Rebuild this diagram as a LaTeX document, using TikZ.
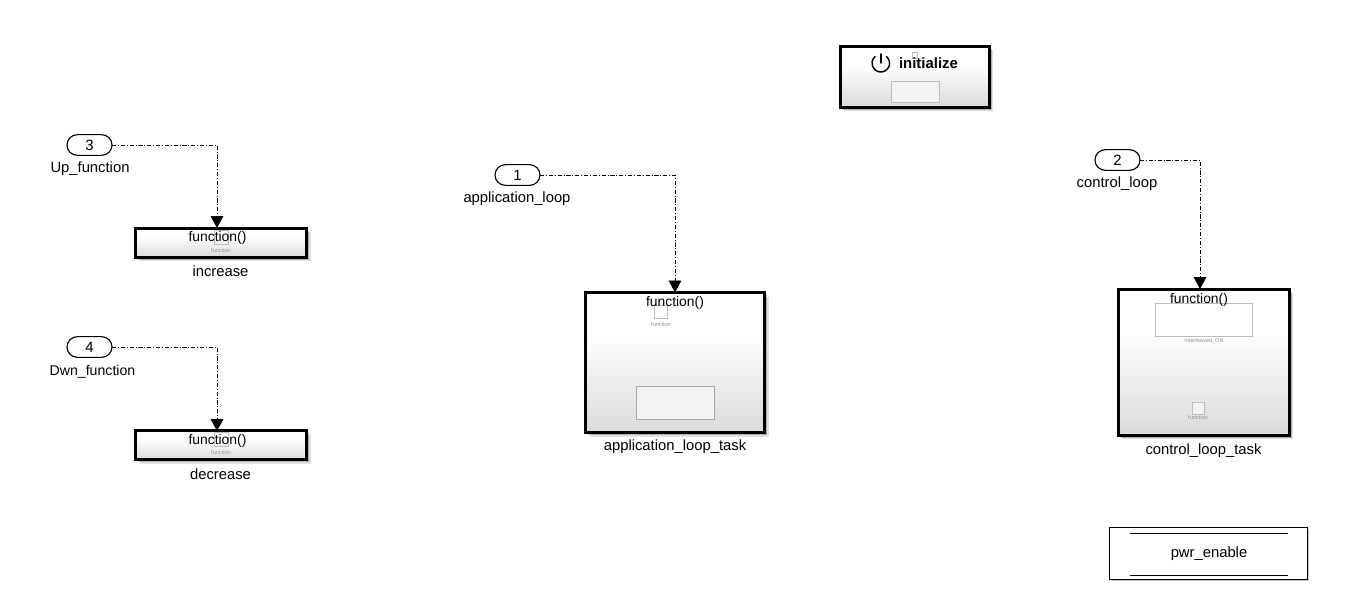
\documentclass[tikz,border=0pt]{standalone}
\usepackage{fontspec}
\setmainfont{Liberation Sans}
\usetikzlibrary{arrows.meta,calc,shadows,shapes.misc}
\definecolor{gridline}{HTML}{BDBDBD}
\definecolor{shade}{HTML}{DADADA}
\pgfdeclareverticalshading{blockshade}{100bp}{color(0bp)=(shade);color(25bp)=(shade);color(60bp)=(white);color(75bp)=(white);color(100bp)=(white)}
\tikzset{
  softshadow/.style={
    general shadow={shadow xshift=3pt,shadow yshift=-3pt,fill=black,opacity=.12},
    general shadow={shadow xshift=2pt,shadow yshift=-2pt,fill=black,opacity=.22}},
  blockbox/.style={softshadow,draw=black,line width=2.25pt,shading=blockshade,rectangle,inner sep=0pt,outer sep=0pt},
  port/.style={draw=black,line width=.85pt,rounded rectangle,fill=white,minimum width=33.75pt,minimum height=15.5pt,inner sep=0pt,outer sep=0pt,font=\fontsize{11.2pt}{13pt}\selectfont},
  lbl/.style={inner sep=0pt,font=\fontsize{11.1pt}{13pt}\selectfont},
  fnlbl/.style={inner sep=0pt,font=\fontsize{10.4pt}{12pt}\selectfont},
  tinylbl/.style={inner sep=0pt,text=gray!85,font=\fontsize{4.2pt}{5pt}\selectfont},
  inner/.style={draw=gridline,line width=.6pt,rectangle,inner sep=0pt,outer sep=0pt},
  sig/.style={line width=.65pt,dash pattern=on 3.2pt off 1.3pt on .8pt off 1.3pt,-{Triangle[length=9pt,width=9.5pt,fill=black]}},
}
\begin{document}
\begin{tikzpicture}[x=0.75pt,y=-0.75pt]
\useasboundingbox (0,0) rectangle (1345,604);

% blocks
\node[blockbox,minimum width=171*0.75pt,minimum height=29*0.75pt] (inc) at (221,242.5) {};
\node[blockbox,minimum width=171*0.75pt,minimum height=29*0.75pt] (dec) at (221,445) {};
\node[blockbox,minimum width=179*0.75pt,minimum height=140*0.75pt] (app) at (675,362.5) {};
\node[blockbox,minimum width=171*0.75pt,minimum height=146*0.75pt] (ctl) at (1203.5,362) {};
\node[blockbox,minimum width=149*0.75pt,minimum height=61*0.75pt] (ini) at (914.5,76.5) {};

% pwr_enable
\node[rectangle,draw=black,line width=.75pt,fill=white,minimum width=198*0.75pt,minimum height=52*0.75pt,inner sep=0pt,
  general shadow={shadow xshift=1.8pt,shadow yshift=-1.8pt,fill=black,opacity=.22}] (pwr) at (1208,553) {};
\node[lbl] (pwrt) at (1209,554) {pwr\_enable};
\coordinate (pwa) at (1130,533); \coordinate (pwb) at (1288,533);
\coordinate (pwc) at (1130,575); \coordinate (pwd) at (1288,575);
\draw[line width=.75pt] (pwa) -- (pwb);
\draw[line width=.75pt] (pwc) -- (pwd);

% ports
\node[port] (p3) at (89.5,145) {3};
\node[port] (p4) at (89.5,347) {4};
\node[port] (p1) at (517.5,175) {1};
\node[port] (p2) at (1117.5,160) {2};
\node[lbl] (l3) at (90,169) {Up\_function};
\node[lbl,font=\fontsize{10.6pt}{13pt}\selectfont] (l4) at (92.5,372) {Dwn\_function};
\node[lbl] (l1) at (517,199) {application\_loop};
\node[lbl] (l2) at (1117,184) {control\_loop};

% connector ends on block tops
\coordinate (in3) at (217,228);
\coordinate (in4) at (217,431);
\coordinate (in1) at (675,292.5);
\coordinate (in2) at (1200,289);
\draw[sig] (p3.east) -| (in3);
\draw[sig] (p4.east) -| (in4);
\draw[sig] (p1.east) -| (in1);
\draw[sig] (p2.east) -| (in2);

% increase contents
\node[inner,minimum width=14*0.75pt,minimum height=14*0.75pt] (incs) at (221,237) {};
\node[fnlbl] (incf) at (217.5,238) {function()};
\node[tinylbl] (inct) at (221,250) {function};
\node[lbl] (incn) at (220.5,271) {increase};

% decrease contents
\node[inner,minimum width=14*0.75pt,minimum height=14*0.75pt] (decs) at (221,439.5) {};
\node[fnlbl] (decf) at (217.5,440.5) {function()};
\node[tinylbl] (dect) at (221,452) {function};
\node[lbl] (decn) at (220.5,474) {decrease};

% application task contents
\node[inner,fill=white,minimum width=13*0.75pt,minimum height=13*0.75pt] (apps) at (661,312) {};
\node[fnlbl] (appf) at (675,303) {function()};
\node[tinylbl] (appt) at (661,324) {function};
\node[inner,draw=gray!70,fill=black!5,minimum width=78*0.75pt,minimum height=33*0.75pt] (appr) at (675,402.5) {};
\node[lbl] (appn) at (675,447) {application\_loop\_task};

% control task contents
\node[inner,fill=white,minimum width=97*0.75pt,minimum height=33*0.75pt] (ctlr) at (1203.5,319.5) {};
\node[fnlbl] (ctlf) at (1199,300) {function()};
\node[tinylbl] (ctlt) at (1204,341) {Interleaved\_ON};
\node[inner,fill=black!5,minimum width=12*0.75pt,minimum height=12*0.75pt] (ctls) at (1198,408) {};
\node[tinylbl] (ctlu) at (1198,417) {function};
\node[lbl] (ctln) at (1203.5,450.5) {control\_loop\_task};

% initialize contents
\node[inner,fill=white,minimum width=5*0.75pt,minimum height=6*0.75pt] (inis) at (914.5,55) {};
\node[inner,fill=black!5,minimum width=48*0.75pt,minimum height=21*0.75pt] (inir) at (915,91.5) {};
\node[inner sep=0pt,font=\fontsize{11.2pt}{13pt}\selectfont\bfseries] (init) at (928.5,63) {initialize};
\coordinate (pwr0) at (881,63);
\draw[line width=1.1pt,line cap=round] ($(pwr0)+(-50:8.5)$) arc[start angle=-50,end angle=230,x radius=6.6pt,y radius=-6.6pt];
\draw[line width=1.1pt,line cap=round] (881,54) -- (881,63);
\end{tikzpicture}
\end{document}
